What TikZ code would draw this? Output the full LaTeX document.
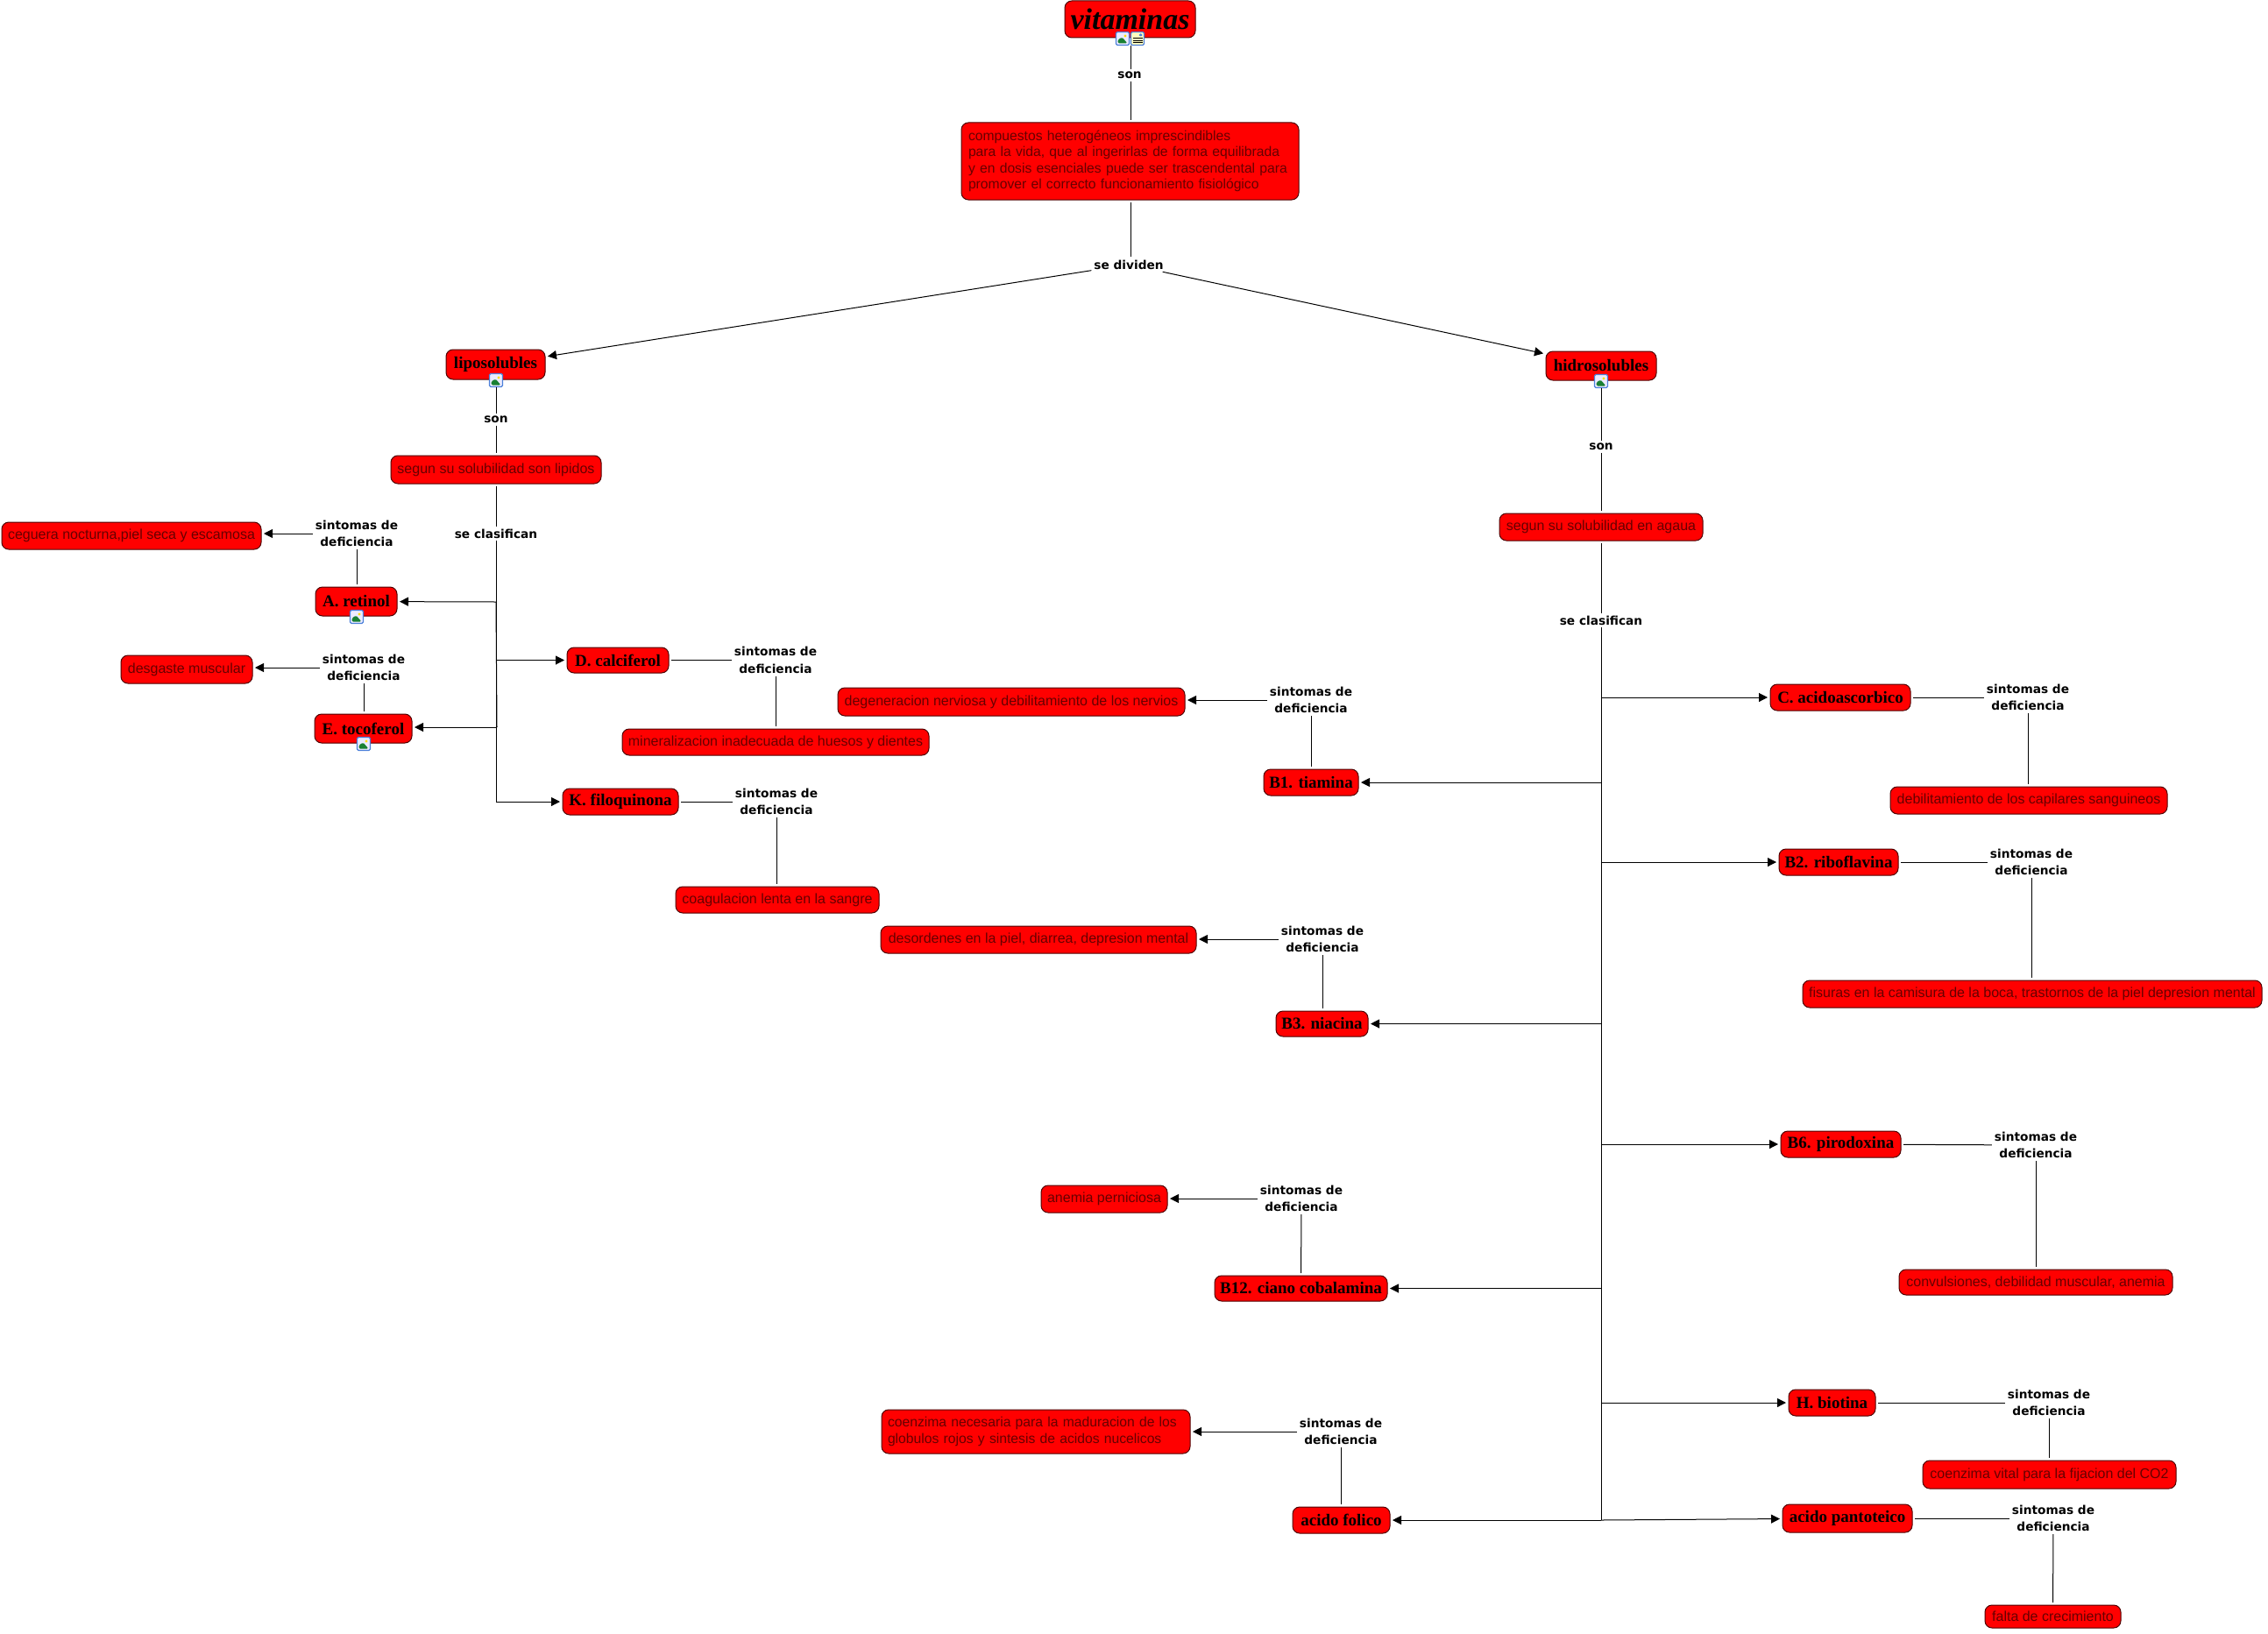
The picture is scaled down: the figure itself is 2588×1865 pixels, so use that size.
\documentclass[tikz,border=0pt]{standalone}
\usepackage{fontspec}
\setmainfont{Liberation Sans}
\newfontfamily\titlef{Liberation Serif}
\newfontfamily\labelf{DejaVu Sans}
\usetikzlibrary{arrows.meta}
\definecolor{txtred}{rgb}{0.4,0,0}
\definecolor{edgered}{rgb}{0.3,0,0}
\definecolor{iconblue}{rgb}{0.3,0.5,0.85}
\definecolor{icongreen}{rgb}{0.1,0.5,0.2}
\tikzset{
  x=1pt,y=-1pt,
  boxbase/.style={draw=edgered,fill=red,rounded corners=8pt,line width=1pt,inner sep=0pt,outer sep=3pt},
  vit/.style={boxbase,text=black,font=\titlef\bfseries\fontsize{19}{20}\selectfont},
  desc/.style={boxbase,text=txtred,font=\fontsize{16}{18.4}\selectfont,align=left},
  descm/.style={desc,font=\fontsize{15.7}{18.4}\selectfont},
  lbl/.style={inner sep=0pt,outer sep=3pt,align=center,font=\labelf\bfseries\fontsize{13.7}{19.5}\selectfont},
  link/.style={line width=1pt,draw=black},
  arrow/.style={link,-{Triangle[length=10pt,width=10pt]}},
  iconbase/.style={draw=iconblue,fill=white,rounded corners=1.5pt,line width=1.2pt,minimum width=15pt,minimum height=15pt,inner sep=0pt,outer sep=0pt},
  iconpic/.style={iconbase,path picture={
    \fill[blue!8] (path picture bounding box.south west) rectangle (path picture bounding box.north east);
    \fill[icongreen] ([xshift=2pt,yshift=2pt]path picture bounding box.south west) -- ++(0pt,4pt) -- ++(5pt,3pt) -- ++(6pt,-7pt) -- cycle;
    \fill[yellow!80!orange] ([xshift=-4.5pt,yshift=-4.5pt]path picture bounding box.north east) circle (1.7pt);
  }},
  icondoc/.style={iconbase,fill=yellow!25,path picture={
    \foreach \k in {7,9.5,12}{\draw[black,line width=.6pt] ([xshift=2pt,yshift=-\k pt]path picture bounding box.north west) -- ++(11pt,0pt);}
    \fill[iconblue] ([xshift=-6pt,yshift=-5pt]path picture bounding box.north east) rectangle ++(4pt,3pt);
  }},
}
\newcommand{\cbox}[7][vit]{\node[#1,minimum width={#4-#2},minimum height={#5-#3}] (#6) at ({(#2+#4)/2},{(#3+#5)/2}) {#7};}
\newcommand{\sint}[3]{\node[lbl] (#1) at (#2,#3) {sintomas de\\deficiencia};}
\begin{document}
\begin{tikzpicture}
\useasboundingbox (0,0) rectangle (2588,1865);
% upper part
\cbox[vit,font=\titlef\bfseries\itshape\fontsize{34}{36}\selectfont]{1215}{1}{1364}{43}{vit}{vitaminas}
\node[iconpic] (ic1) at (1281,44) {};
\node[icondoc] (ic2) at (1298,44) {};
\coordinate (top) at (1290,52);
\node[lbl] (l0) at (1289,86) {son};
\cbox[descm,text width=369pt]{1097}{140}{1482}{228}{comp}{compuestos heterogéneos imprescindibles\\para la vida, que al ingerirlas de forma equilibrada\\y en dosis esenciales puede ser trascendental para\\promover el correcto funcionamiento fisiológico}
\node[lbl] (l1) at (1288,302) {se dividen};
\draw[link] (top) -- (top |- l0.north);
\draw[link] (top |- l0.south) -- (top |- comp.north);
\coordinate (c1) at (1290,231);
\coordinate (c2) at (1290,293);
\draw[link] (c1) -- (c2);
% liposolubles
\cbox{509}{399}{622}{433}{lip}{liposolubles}
\node[iconpic] (ic3) at (566,434) {};
\node[lbl] (l2) at (566,479) {son};
\cbox[desc]{446}{520}{686}{552}{seg1}{segun su solubilidad son lipidos}
\node[lbl] (l3) at (566,609) {se clasifican};
\draw[arrow] (l1) -- (lip);
\draw[link] (ic3) -- (l2);
\draw[link] (l2) -- (seg1);
\draw[link] (seg1) -- (l3);
\coordinate (jA) at (566,687);
\coordinate (jD) at (566,753.5);
\coordinate (jE) at (567,830);
\coordinate (jK) at (566,915);
\draw[link] (l3) -- (jK);
\draw[link] (jA) -- (jE);
% A
\cbox{360}{670}{453}{703}{A}{A. retinol}
\node[iconpic] (ic4) at (407,704) {};
\sint{sA}{407}{609}
\cbox[desc]{2}{596}{298}{627}{dA}{ceguera nocturna,piel seca y escamosa}
\draw[arrow] (jA) -- (A);
\draw[link] (sA) -- (sA |- A.north);
\draw[arrow] (sA) -- (sA -| dA.east);
% E
\cbox{359}{815}{470}{848}{E}{E. tocoferol}
\node[iconpic] (ic5) at (415,849) {};
\sint{sE}{415}{762}
\cbox[desc]{138}{748}{288}{780}{dE}{desgaste muscular}
\draw[arrow] (jE) -- (jE -| E.east);
\draw[link] (sE) -- (sE |- E.north);
\draw[arrow] (sE) -- (sE -| dE.east);
% D
\cbox{647}{739}{763}{768}{D}{D. calciferol}
\sint{sD}{885}{753.5}
\cbox[desc]{710}{832}{1060}{862}{dD}{mineralizacion inadecuada de huesos y dientes}
\draw[arrow] (jD) -- (D);
\draw[link] (D) -- (sD);
\draw[link] (sD) -- (sD |- dD.north);
% K
\cbox{642}{900}{774}{930}{K}{K. filoquinona}
\sint{sK}{886}{915}
\cbox[desc]{771}{1012}{1003}{1042}{dK}{coagulacion lenta en la sangre}
\draw[arrow] (jK) -- (K);
\draw[link] (K) -- (sK);
\draw[link] (sK) -- (sK |- dK.north);
% hidrosolubles
\cbox{1764}{401}{1890}{434}{hid}{hidrosolubles}
\node[iconpic] (ic6) at (1827,435) {};
\node[lbl] (l4) at (1827,510) {son};
\cbox[desc]{1711}{586}{1943}{617}{seg2}{segun su solubilidad en agaua}
\node[lbl] (l5) at (1827,708) {se clasifican};
\draw[arrow] (l1) -- (hid);
\draw[link] (ic6) -- (l4);
\draw[link] (l4) -- (seg2);
\draw[link] (seg2) -- (l5);
\coordinate (tEnd) at (1827,1735);
\draw[link] (l5) -- (tEnd);
% C
\cbox{2020}{781}{2180}{811}{C}{C. acidoascorbico}
\sint{sC}{2314}{796}
\cbox[desc]{2157}{898}{2473}{929}{dC}{debilitamiento de los capilares sanguineos}
\coordinate (jC) at (1827,796);
\draw[arrow] (jC) -- (C);
\draw[link] (C) -- (sC);
\draw[link] (sC) -- (sC |- dC.north);
% B1
\cbox{1442}{878}{1550}{908}{Ba}{B1. tiamina}
\sint{sBa}{1496}{799}
\cbox[desc]{956}{785}{1352}{817}{dBa}{degeneracion nerviosa y debilitamiento de los nervios}
\coordinate (jBa) at (1827,893);
\draw[arrow] (jBa) -- (Ba);
\draw[link] (sBa) -- (sBa |- Ba.north);
\draw[arrow] (sBa) -- (sBa -| dBa.east);
% B2
\cbox{2030}{969}{2166}{999}{Bb}{B2. riboflavina}
\sint{sBb}{2318}{984}
\cbox[desc]{2057}{1119}{2581}{1150}{dBb}{fisuras en la camisura de la boca, trastornos de la piel depresion mental}
\coordinate (jBb) at (1827,984);
\draw[arrow] (jBb) -- (Bb);
\draw[link] (Bb) -- (sBb);
\draw[link] (sBb) -- (sBb |- dBb.north);
% B3
\cbox{1456}{1154}{1561}{1183}{Bc}{B3. niacina}
\sint{sBc}{1509}{1072}
\cbox[desc]{1005}{1057}{1365}{1088}{dBc}{desordenes en la piel, diarrea, depresion mental}
\coordinate (jBc) at (1827,1168.5);
\draw[arrow] (jBc) -- (Bc);
\draw[link] (sBc) -- (sBc |- Bc.north);
\draw[arrow] (sBc) -- (sBc -| dBc.east);
% B6
\cbox{2032}{1291}{2169}{1321}{Bd}{B6. pirodoxina}
\sint{sBd}{2323}{1307}
\cbox[desc]{2167}{1449}{2479}{1478}{dBd}{convulsiones, debilidad muscular, anemia}
\coordinate (jBd) at (1827,1306);
\draw[arrow] (jBd) -- (Bd);
\draw[link] (Bd) -- (sBd);
\draw[link] (sBd) -- (sBd |- dBd.north);
% B12
\cbox{1386}{1456}{1583}{1485}{Be}{B12. ciano cobalamina}
\sint{sBe}{1485}{1368}
\cbox[desc]{1188}{1353}{1332}{1384}{dBe}{anemia perniciosa}
\coordinate (jBe) at (1827,1470.5);
\draw[arrow] (jBe) -- (Be);
\draw[link] (Be) -- (sBe);
\draw[arrow] (sBe) -- (sBe -| dBe.east);
% H
\cbox{2041}{1586}{2140}{1616}{H}{H. biotina}
\sint{sH}{2338}{1601}
\cbox[desc]{2194}{1667}{2483}{1699}{dH}{coenzima vital para la fijacion del CO2}
\coordinate (jH) at (1827,1601);
\draw[arrow] (jH) -- (H);
\draw[link] (H) -- (sH);
\draw[link] (sH) -- (sH |- dH.north);
% acido folico
\cbox{1475}{1720}{1586}{1750}{F}{acido folico}
\sint{sF}{1530}{1634}
\cbox[descm,text width=338pt]{1006}{1609}{1358}{1659}{dF}{coenzima necesaria para la maduracion de los\\globulos rojos y sintesis de acidos nucelicos}
\draw[arrow] (tEnd) -- (F);
\draw[link] (sF) -- (sF |- F.north);
\draw[arrow] (sF) -- (sF -| dF.east);
% acido pantoteico
\cbox{2034}{1717}{2182}{1749}{P}{acido pantoteico}
\sint{sP}{2343}{1733}
\cbox[desc]{2265}{1832}{2420}{1858}{dP}{falta de crecimiento}
\draw[arrow] (tEnd) -- (P);
\draw[link] (P) -- (sP);
\draw[link] (sP) -- (dP);
\end{tikzpicture}
\end{document}
